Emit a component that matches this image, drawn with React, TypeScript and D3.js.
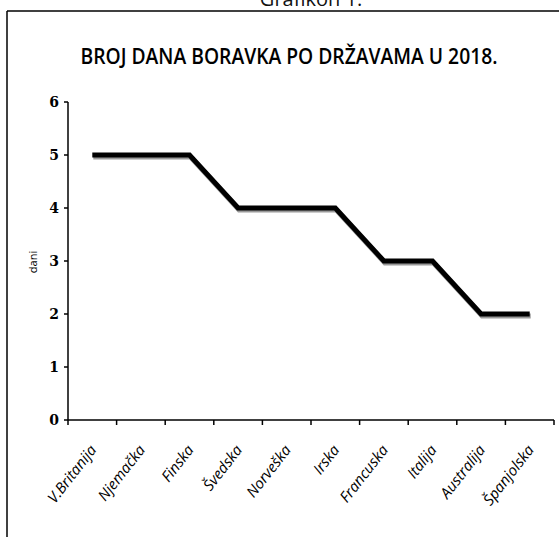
import React from "react";
import * as d3 from "d3";

const categories = ["V.Britanija", "Njemačka", "Finska", "Švedska", "Norveška", "Irska", "Francuska", "Italija", "Australija", "Španjolska"];
const days = [5, 5, 5, 4, 4, 4, 3, 3, 2, 2];
const yTicks = [0, 1, 2, 3, 4, 5, 6];
const title = "BROJ DANA BORAVKA PO DRŽAVAMA U 2018.";
const caption = "Grafikon 1.";
const yLabel = "dani";

const W = 559, H = 537;
const left = 68, right = 554, top = 102, bottom = 420;

export default function App() {
  const x = d3.scaleBand<string>().domain(categories).range([left, right]);
  const y = d3.scaleLinear().domain([0, 6]).range([bottom, top]);
  const line = d3.line<number>()
    .x((_, i) => (x(categories[i]) as number) + x.bandwidth() / 2)
    .y((d) => y(d));
  const path = line(days) || "";
  const boundaries = categories.map((c) => x(c) as number).concat([right]);
  const font = "Open Sans, Lato, sans-serif";
  return (
    <svg width={W} height={H} style={{ position: "absolute", left: 0, top: 0, background: "#fff" }}>
      <text x={311} y={6} textAnchor="middle" fontFamily={font} fontSize={20} fill="#111">{caption}</text>
      <line x1={7} y1={11} x2={W} y2={11} stroke="#000" strokeWidth={1.5} />
      <line x1={7} y1={11} x2={7} y2={H} stroke="#000" strokeWidth={1.5} />
      <text x={289} y={64} textAnchor="middle" fontFamily={font} fontSize={22} fontWeight={600}
        textLength={417} lengthAdjust="spacingAndGlyphs" fill="#000">{title}</text>
      {/* y axis */}
      <line x1={left} y1={top} x2={left} y2={bottom} stroke="#000" strokeWidth={1.5} />
      {yTicks.map((t) => (
        <g key={t}>
          <line x1={left - 4} x2={left} y1={y(t)} y2={y(t)} stroke="#000" strokeWidth={1.5} />
          <text x={54} y={y(t) + 5} textAnchor="middle" fontFamily="DejaVu Serif, serif" fontWeight="bold" fontSize={14} fill="#000">{t}</text>
        </g>
      ))}
      <text transform={`translate(37, 262) rotate(-90)`} textAnchor="middle" fontFamily={font} fontSize={11} fill="#000">{yLabel}</text>
      {/* x axis */}
      <line x1={left} y1={bottom} x2={right} y2={bottom} stroke="#000" strokeWidth={1.5} />
      {boundaries.map((b, i) => (
        <line key={i} x1={b} x2={b} y1={bottom} y2={bottom + 5} stroke="#000" strokeWidth={1.5} />
      ))}
      {categories.map((c) => {
        const cx = (x(c) as number) + x.bandwidth() / 2 + 5;
        return (
          <text key={c} transform={`translate(${cx}, ${bottom + 30}) rotate(-52)`} textAnchor="end"
            fontFamily={font} fontStyle="italic" fontSize={15} fill="#000">{c}</text>
        );
      })}
      {/* line with scan shadow */}
      <path d={path} transform="translate(1,2)" fill="none" stroke="#999" strokeWidth={5} strokeLinejoin="miter" />
      <path d={path} fill="none" stroke="#000" strokeWidth={5} strokeLinejoin="miter" />
    </svg>
  );
}
